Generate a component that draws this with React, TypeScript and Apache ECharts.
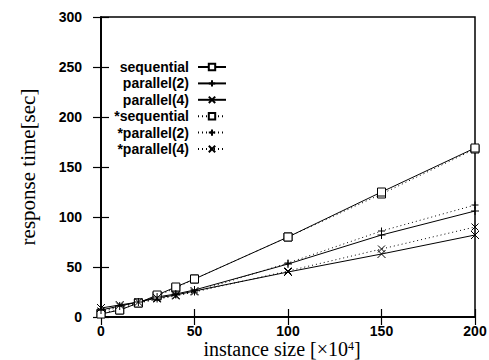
import React, { useEffect, useRef } from "react";
import * as echarts from "echarts";

const sizes = [0, 10, 20, 30, 40, 50, 100, 150, 200];
const sequential = [3, 7, 14, 22, 30, 38, 80, 125, 169];
const parallel2 = [7, 11, 15, 20, 23, 27, 53, 82, 106];
const parallel4 = [9, 12, 15, 19, 22, 26, 45, 63, 82];
const seqStar = [4, 7, 14, 21, 29, 38, 80, 123, 168];
const par2Star = [5, 10, 14, 18, 22, 25, 54, 86, 112];
const par4Star = [6, 11, 14, 18, 21, 25, 46, 68, 90];

const seriesNames = ["sequential", "parallel(2)", "parallel(4)", "*sequential", "*parallel(2)", "*parallel(4)"];
const seriesValues = [sequential, parallel2, parallel4, seqStar, par2Star, par4Star];

const SYM_SQUARE = "path://M0,0L10,0L10,10L0,10Z";
const SYM_PLUS = "path://M0,5L10,5M5,0L5,10";
const SYM_CROSS = "path://M0,0L10,10M10,0L0,10";
const symbols = [SYM_SQUARE, SYM_PLUS, SYM_CROSS, SYM_SQUARE, SYM_PLUS, SYM_CROSS];
const symbolSizes = [8, 8, 8, 8, 7, 7];
const symbolFills = ["#fff", "#000", "#000", "#fff", "#000", "#000"];

export default function App() {
  const ref = useRef<HTMLDivElement>(null);
  useEffect(() => {
    if (!ref.current) return;
    const chart = echarts.init(ref.current, null, { renderer: "svg" });
    const labelFont = { fontFamily: "Liberation Sans", fontWeight: "bold" as const, fontSize: 14, color: "#000" };
    const series = seriesNames.map((name, i) => ({
      name,
      type: "line" as const,
      data: sizes.map((x, j) => [x, seriesValues[i][j]]),
      symbol: symbols[i],
      symbolSize: symbolSizes[i],
      showAllSymbol: true,
      lineStyle: { color: "#000", width: 1, type: i < 3 ? ("solid" as const) : ([1, 3] as any) },
      itemStyle: { color: symbolFills[i], borderColor: "#000", borderWidth: 1 },
      z: i < 3 ? 3 : 2,
    }));
    chart.setOption({
      animation: false,
      backgroundColor: "#fff",
      grid: {
        left: 101,
        right: 14,
        top: 17,
        bottom: 43,
        outerBoundsMode: "none",
        containLabel: false,
        show: true,
        borderColor: "#000",
        borderWidth: 1.5,
      },
      legend: {
        orient: "vertical",
        right: 257,
        top: 54,
        align: "right",
        itemWidth: 28,
        itemHeight: 8,
        itemGap: 0.4,
        textStyle: { ...labelFont, fontSize: 14, lineHeight: 16, padding: [0, 4, 0, 0] },
        data: seriesNames,
      },
      xAxis: [
        {
          type: "value",
          min: 0,
          max: 200,
          interval: 50,
          splitLine: { show: false },
          axisLine: { lineStyle: { color: "#000", width: 1.5 } },
          axisTick: { inside: true, length: 8, lineStyle: { color: "#000", width: 1.2 } },
          axisLabel: { ...labelFont, margin: 7, lineHeight: 13 },
          name: "{a|instance size [×10}{s|4}{a|]}",
          nameLocation: "middle",
          nameGap: 23,
          nameMoveOverlap: false,
          nameTextStyle: {
            padding: [0, 12, 0, 0],
            rich: {
              a: { fontFamily: "Liberation Serif", fontSize: 20, lineHeight: 18, color: "#000" },
              s: { fontFamily: "Liberation Serif", fontSize: 12, lineHeight: 12, verticalAlign: "top", color: "#000" },
            },
          },
        },
        {
          type: "value",
          position: "top",
          min: 0,
          max: 200,
          interval: 50,
          splitLine: { show: false },
          axisLine: { lineStyle: { color: "#000", width: 1.5 } },
          axisTick: { inside: true, length: 8, lineStyle: { color: "#000", width: 1.2 } },
          axisLabel: { show: false },
        },
      ],
      yAxis: [
        {
          type: "value",
          min: 0,
          max: 300,
          interval: 50,
          splitLine: { show: false },
          axisLine: { show: true, lineStyle: { color: "#000", width: 1.5 } },
          axisTick: { show: true, inside: true, length: 8, lineStyle: { color: "#000", width: 1.2 } },
          axisLabel: { ...labelFont, margin: 19 },
          name: "response time[sec]",
          nameLocation: "middle",
          nameGap: 63,
          nameMoveOverlap: false,
          nameTextStyle: { fontFamily: "Liberation Serif", fontSize: 21, color: "#000" },
        },
        {
          type: "value",
          position: "right",
          min: 0,
          max: 300,
          interval: 50,
          splitLine: { show: false },
          axisLine: { show: true, lineStyle: { color: "#000", width: 1.5 } },
          axisTick: { show: true, inside: true, length: 8, lineStyle: { color: "#000", width: 1.2 } },
          axisLabel: { show: false },
        },
      ],
      series,
    });
    return () => chart.dispose();
  }, []);
  return <div ref={ref} style={{ width: 489, height: 360, position: "absolute", left: 0, top: 0 }} />;
}
